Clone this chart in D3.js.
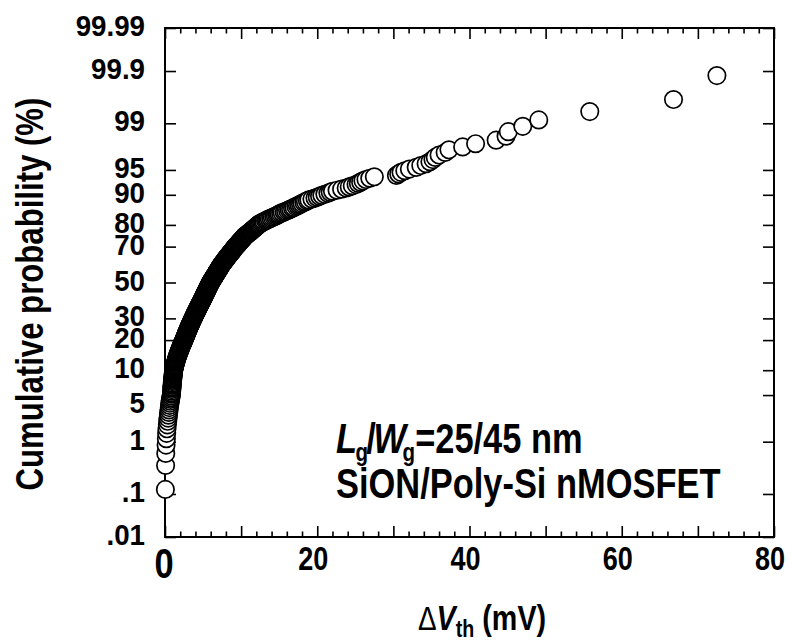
<!DOCTYPE html>
<html><head><meta charset="utf-8">
<script src="https://cdn.jsdelivr.net/npm/d3@7"></script>
<style>html,body{margin:0;padding:0;background:#fff}svg{display:block}</style>
</head><body>
<svg id="chart" width="792" height="643"></svg>
<script>
// ΔVth of 400 devices, sorted ascending (mV)
const deltaVth = [
 0.05,0.08,0.1,0.14,0.18,0.22,0.26,0.31,0.36,0.4,
 0.45,0.49,0.53,0.57,0.61,0.65,0.69,0.73,0.77,0.81,
 0.85,0.86,0.88,0.89,0.91,0.92,0.94,0.95,0.97,0.98,
 1.0,1.01,1.03,1.04,1.06,1.07,1.09,1.1,1.12,1.13,
 1.15,1.18,1.21,1.24,1.27,1.3,1.33,1.36,1.39,1.42,
 1.45,1.48,1.52,1.55,1.58,1.62,1.65,1.69,1.72,1.76,
 1.79,1.83,1.86,1.9,1.93,1.97,2.0,2.04,2.07,2.11,
 2.14,2.18,2.21,2.25,2.28,2.32,2.36,2.39,2.43,2.46,
 2.5,2.53,2.56,2.59,2.62,2.65,2.68,2.71,2.74,2.77,
 2.8,2.83,2.86,2.89,2.92,2.95,2.98,3.01,3.04,3.07,
 3.1,3.13,3.16,3.19,3.22,3.25,3.28,3.31,3.34,3.37,
 3.4,3.43,3.46,3.49,3.52,3.55,3.58,3.61,3.64,3.67,
 3.7,3.73,3.76,3.79,3.82,3.85,3.88,3.91,3.94,3.97,
 4.0,4.03,4.06,4.09,4.12,4.15,4.18,4.21,4.24,4.27,
 4.3,4.33,4.36,4.39,4.42,4.45,4.48,4.51,4.54,4.57,
 4.6,4.63,4.66,4.69,4.72,4.75,4.78,4.81,4.84,4.87,
 4.9,4.93,4.96,4.98,5.01,5.04,5.07,5.1,5.12,5.15,
 5.18,5.2,5.23,5.26,5.29,5.32,5.34,5.37,5.4,5.42,
 5.45,5.48,5.51,5.53,5.56,5.59,5.62,5.64,5.67,5.7,
 5.73,5.75,5.78,5.81,5.84,5.86,5.89,5.92,5.95,5.97,
 6.0,6.04,6.07,6.11,6.14,6.18,6.21,6.25,6.28,6.32,
 6.35,6.39,6.42,6.46,6.49,6.53,6.56,6.6,6.63,6.67,
 6.7,6.74,6.77,6.81,6.84,6.88,6.91,6.95,6.98,7.02,
 7.05,7.09,7.12,7.16,7.19,7.23,7.26,7.3,7.33,7.37,
 7.4,7.45,7.49,7.54,7.58,7.63,7.67,7.72,7.76,7.81,
 7.85,7.9,7.94,7.99,8.03,8.08,8.12,8.17,8.21,8.26,
 8.3,8.35,8.4,8.45,8.5,8.55,8.6,8.65,8.7,8.75,
 8.8,8.85,8.9,8.95,9.0,9.05,9.1,9.15,9.2,9.25,
 9.3,9.36,9.42,9.48,9.54,9.6,9.66,9.72,9.78,9.84,
 9.9,9.96,10.02,10.08,10.14,10.2,10.26,10.32,10.38,10.44,
 10.5,10.59,10.68,10.77,10.86,10.95,11.04,11.13,11.22,11.31,
 11.4,11.49,11.58,11.67,11.76,11.85,11.94,12.03,12.12,12.21,
 12.3,12.4,12.55,12.7,12.85,13.0,13.2,13.35,13.5,13.7,
 13.9,14.1,14.3,14.5,14.7,14.85,15.0,15.2,15.4,15.65,
 15.85,16.1,16.3,16.5,16.75,16.95,17.2,17.4,17.6,17.8,
 18.0,18.25,18.45,18.7,18.9,19.3,19.7,20.0,20.3,20.6,
 21.0,21.4,21.7,22.0,22.6,23.2,23.8,24.2,24.6,25.1,
 25.4,25.7,26.0,26.4,26.9,27.5,
 30.4,30.7,31.0,31.5,32.1,33.0,33.6,34.3,34.8,35.2,
 35.5,36.0,36.8,37.3,39.1,40.8,43.5,44.8,45.1,47.0,
 49.1,55.8,66.8,72.5
];
const probTicks  = [0.01, 0.1, 1, 5, 10, 20, 30, 50, 70, 80, 90, 95, 99, 99.9, 99.99];
const probLabels = [".01", ".1", "1", "5", "10", "20", "30", "50", "70", "80", "90", "95", "99", "99.9", "99.99"];
const xTicks      = [0, 20, 40, 60, 80];
const xTickLabels = ["0", "20", "40", "60", "80"];
const xTitle = {delta: "\u0394", v: "V", sub: "th", unit: " (mV)"};
const yTitle = "Cumulative probability (%)";

// inverse standard normal CDF (Acklam) for the probability axis
function probit(p){
  const a=[-3.969683028665376e+01,2.209460984245205e+02,-2.759285104469687e+02,1.383577518672690e+02,-3.066479806614716e+01,2.506628277459239e+00];
  const b=[-5.447609879822406e+01,1.615858368580409e+02,-1.556989798598866e+02,6.680131188771972e+01,-1.328068155288572e+01];
  const c=[-7.784894002430293e-03,-3.223964580411365e-01,-2.400758277161838e+00,-2.549732539343734e+00,4.374664141464968e+00,2.938163982698783e+00];
  const d=[7.784695709041462e-03,3.224671290700398e-01,2.445134137142996e+00,3.754408661907416e+00];
  const pl=0.02425, ph=1-pl; let q,r;
  if(p<pl){q=Math.sqrt(-2*Math.log(p));return (((((c[0]*q+c[1])*q+c[2])*q+c[3])*q+c[4])*q+c[5])/((((d[0]*q+d[1])*q+d[2])*q+d[3])*q+1);}
  if(p>ph){q=Math.sqrt(-2*Math.log(1-p));return -(((((c[0]*q+c[1])*q+c[2])*q+c[3])*q+c[4])*q+c[5])/((((d[0]*q+d[1])*q+d[2])*q+d[3])*q+1);}
  q=p-0.5;r=q*q;return (((((a[0]*r+a[1])*r+a[2])*r+a[3])*r+a[4])*r+a[5])*q/(((((b[0]*r+b[1])*r+b[2])*r+b[3])*r+b[4])*r+1);
}

const L=165, R=774, T=28, B=537;
const FONT = "'Liberation Sans', Arial, Helvetica, sans-serif";
const NARROW = 0.82;
const svg = d3.select("#chart");

const x = d3.scaleLinear().domain([0, 80]).range([L, R]);
const zScale = d3.scaleLinear().domain([probit(0.0001), probit(0.9999)]).range([B, T]);
const yP = p => zScale(probit(p / 100));

// frame
svg.append("rect").attr("x", L).attr("y", T).attr("width", R - L).attr("height", B - T)
  .attr("fill", "none").attr("stroke", "#000").attr("stroke-width", 2);

// ticks, all pointing inward
const minorX = d3.range(0, 81, 2).filter(v => v % 10 !== 0);
const majorX = d3.range(0, 81, 10);
function drawAxis(gen, scale, translate, vals, size){
  svg.append("g").attr("transform", translate)
    .call(gen(scale).tickValues(vals).tickSizeInner(-size).tickSizeOuter(0).tickFormat(""))
    .call(g => g.select(".domain").remove())
    .call(g => g.selectAll("line").attr("stroke", "#000").attr("stroke-width", 1.6));
}
drawAxis(d3.axisBottom, x, `translate(0,${B})`, minorX, 5.5);
drawAxis(d3.axisBottom, x, `translate(0,${B})`, majorX, 11);
drawAxis(d3.axisTop, x, `translate(0,${T})`, minorX, 5.5);
drawAxis(d3.axisTop, x, `translate(0,${T})`, majorX, 11);
const zTicks = probTicks.map(p => probit(p / 100));
drawAxis(d3.axisLeft, zScale, `translate(${L},0)`, zTicks, 11);
drawAxis(d3.axisRight, zScale, `translate(${R},0)`, zTicks, 11);

// y tick labels
svg.append("g").selectAll("text").data(probTicks).join("text")
  .attr("transform", (p, i) => `translate(145,${yP(p) + 8 + (probLabels[i] === "5" ? 10 : 0)}) scale(0.94,1)`)
  .attr("text-anchor", "end").attr("font-family", FONT).attr("font-weight", "bold")
  .attr("font-size", 29.5).attr("fill", "#000")
  .text((p, i) => probLabels[i]);

// x tick labels
svg.append("g").selectAll("text").data(xTicks).join("text")
  .attr("transform", (v, i) => `translate(${x(v) - (i === 0 ? 1 : 4)},${i === 0 ? 578 : 570}) scale(${NARROW},1)`)
  .attr("text-anchor", "middle").attr("font-family", FONT).attr("font-weight", "bold")
  .attr("font-size", (v, i) => i === 0 ? 42 : 33).attr("fill", "#000")
  .text((v, i) => xTickLabels[i]);

// data points, plotted at (rank - 0.5)/n
const n = deltaVth.length;
svg.append("g").selectAll("circle").data(deltaVth).join("circle")
  .attr("cx", v => x(v))
  .attr("cy", (v, i) => yP((i + 0.5) / n * 100))
  .attr("r", 8.7).attr("fill", "#fff").attr("stroke", "#000").attr("stroke-width", 1.7);

// y axis title
svg.append("text").attr("transform", `translate(43,294) rotate(-90) scale(${NARROW},1)`)
  .attr("text-anchor", "middle").attr("font-family", FONT).attr("font-weight", "bold")
  .attr("font-size", 38).attr("fill", "#000").text(yTitle);

// x axis title
const xt = svg.append("text").attr("transform", `translate(418,630) scale(${NARROW},1)`)
  .attr("font-family", FONT).attr("fill", "#000");
xt.append("tspan").attr("font-size", 34).attr("font-weight", "normal").text(xTitle.delta);
xt.append("tspan").attr("font-size", 35).attr("font-weight", "bold").attr("font-style", "italic").text(xTitle.v);
xt.append("tspan").attr("font-size", 24).attr("font-weight", "bold").attr("dy", 7).text(xTitle.sub);
xt.append("tspan").attr("font-size", 35).attr("font-weight", "bold").attr("dy", -7).text(xTitle.unit);

// annotation
const a1 = svg.append("text").attr("transform", `translate(336,453) scale(${NARROW},1)`)
  .attr("font-family", FONT).attr("font-weight", "bold").attr("font-size", 42).attr("fill", "#000");
a1.append("tspan").attr("font-style", "italic").text("L");
a1.append("tspan").attr("font-size", 25).attr("dx", -2).attr("dy", 8).text("g");
a1.append("tspan").attr("dx", -2).attr("dy", -8).text("/");
a1.append("tspan").attr("dx", -3).attr("font-style", "italic").text("W");
a1.append("tspan").attr("font-size", 25).attr("dx", -4).attr("dy", 8).text("g");
a1.append("tspan").attr("dy", -8).text("=25/45 nm");
svg.append("text").attr("transform", `translate(336,498) scale(${NARROW},1)`)
  .attr("font-family", FONT).attr("font-weight", "bold").attr("font-size", 42).attr("fill", "#000")
  .text("SiON/Poly-Si nMOSFET");
</script>
</body></html>
